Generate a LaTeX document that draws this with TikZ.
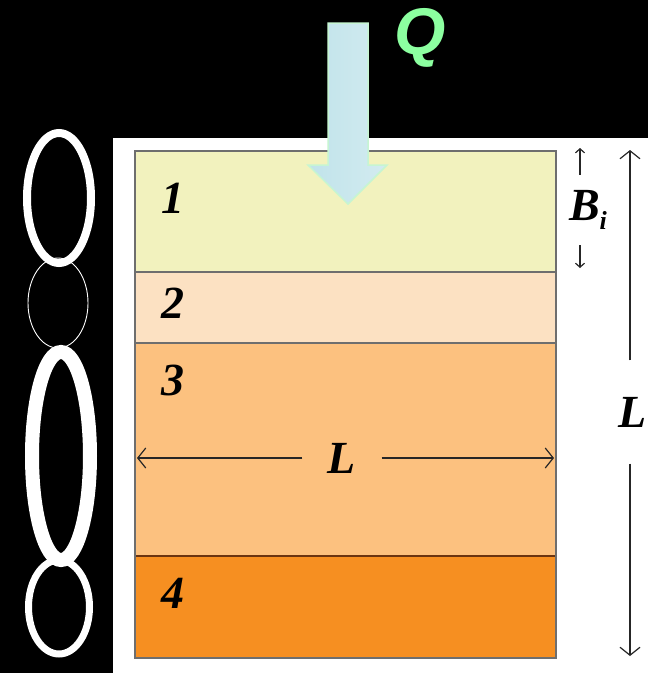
\documentclass[tikz,border=0pt]{standalone}
\usepackage{fontspec}
\setmainfont{Liberation Serif}
\newfontfamily\qfont{Liberation Sans}
\usetikzlibrary{arrows.meta}
\definecolor{layerone}{HTML}{F2F2BE}
\definecolor{layertwo}{HTML}{FCE1C2}
\definecolor{layerthree}{HTML}{FCC17F}
\definecolor{layerfour}{HTML}{F68F21}
\definecolor{boxgray}{HTML}{6E6E6E}
\definecolor{seambrown}{HTML}{6B3410}
\definecolor{flowfill}{HTML}{C0E3EA}
\definecolor{flowedge}{HTML}{C6F5D2}
\definecolor{qgreen}{HTML}{8CFFA0}

\begin{document}
\begin{tikzpicture}[x=1pt, y=-1pt,
    numlabel/.style={font=\bfseries\itshape\fontsize{46}{46}\selectfont, inner sep=0pt},
    dimtip/.style={draw=black!85, line width=1.2pt, -{Straight Barb[length=8pt, width=20pt]}},
    smalltip/.style={draw=black!85, line width=1.2pt, -{Straight Barb[length=4pt, width=9pt]}}]
  % background and sheet
  \fill[black] (0,0) rectangle (648,673);
  \useasboundingbox (0,0) rectangle (648,673);
  \fill[white] (113,138) rectangle (648,673);

  % chain of ellipses
  \draw[white, line width=8pt] (59,198) ellipse [x radius=32pt, y radius=65pt];
  \draw[white, line width=0.9pt] (58,303) ellipse [x radius=30pt, y radius=45pt];
  \draw[white, line width=7pt] (59,607) ellipse [x radius=30.5pt, y radius=47pt];
  \draw[white, line width=14pt] (61,456) ellipse [x radius=29pt, y radius=104pt];

  % layers
  \foreach \i/\ya/\yb/\ylbl/\clr in {
    1/151/272/198/layerone,
    2/272/343/303/layertwo,
    3/343/556/380/layerthree,
    4/556/658/593/layerfour}{
    \fill[\clr] (135,\ya) rectangle (556,\yb);
    \node[numlabel] (num\i) at (173,\ylbl) {\i};
  }
  \draw[boxgray, line width=1.8pt] (135,272) -- (556,272);
  \draw[boxgray, line width=1.8pt] (135,343) -- (556,343);
  \draw[seambrown, line width=1.8pt] (135,556) -- (556,556);
  \draw[boxgray, line width=2.5pt] (135,151) rectangle (556,658);

  % inflow arrow
  \draw[flowedge, line width=1.5pt, left color=flowfill, right color=flowfill!70!white]
    (328,23) -- (368,23) -- (368,165) -- (387,165) -- (348,204)
    -- (308,165) -- (328,165) -- cycle;
  \node[text=qgreen, font=\qfont\bfseries\itshape\fontsize{66}{66}\selectfont,
        inner sep=0pt] (qlbl) at (420,38) {Q};

  % width dimension
  \coordinate (wleft) at (137,458);
  \coordinate (wright) at (554,458);
  \node[numlabel, minimum width=79pt] (wlbl) at (342,458) {L};
  \draw[dimtip] (wlbl.west) -- (wleft);
  \draw[dimtip] (wlbl.east) -- (wright);

  % depth dimension
  \coordinate (dtop) at (630,150);
  \coordinate (dbot) at (630,656);
  \node[numlabel, minimum height=103pt] (dlbl) at (633,412) {L};
  \draw[dimtip] (dtop |- dlbl.north) -- (dtop);
  \draw[dimtip] (dbot |- dlbl.south) -- (dbot);

  % layer thickness
  \coordinate (btop) at (580,148);
  \coordinate (bbot) at (580,268);
  \node[numlabel, minimum height=70pt] (blbl) at (588,210)
    {B\raisebox{-0.45ex}{\fontsize{26}{26}\selectfont i}};
  \draw[smalltip] (btop |- blbl.north) -- (btop);
  \draw[smalltip] (bbot |- blbl.south) -- (bbot);
\end{tikzpicture}
\end{document}
